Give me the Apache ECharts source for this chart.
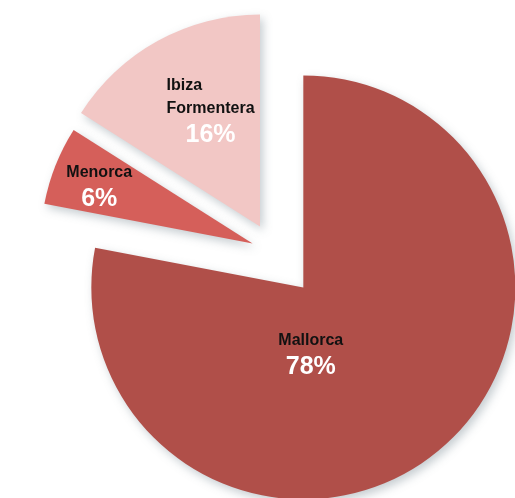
<!DOCTYPE html>
<html>
<head>
<meta charset="utf-8">
<script src="https://cdn.jsdelivr.net/npm/echarts@6/dist/echarts.min.js"></script>
<style>
  html, body { margin: 0; padding: 0; background: #fff; }
  #chart { width: 515px; height: 498px; }
</style>
</head>
<body>
<div id="chart"></div>
<script>
// data
const islands = ['Mallorca', 'Menorca', 'Ibiza Formentera']
const shares = [78, 6, 16]

// styles
const colors = ['#b04f49', '#d55f5a', '#f2c7c5']
const explode = [46, 23, 29]
const labelShift = [[-62, -16], [-52, -16], [3, -19]]
const font = "'Liberation Sans Narrow', 'Liberation Sans', Arial, sans-serif"

const chart = echarts.init(document.getElementById('chart'))

const labelText = (name, value) => {
  const lines = name.split(' ')
  const tag = lines.length > 1 ? 'nl' : 'n'
  return lines.map(l => `{${tag}|${l}}`).join('\n') + `\n{p|${value}%}`
}

// one series per slice so each can have its own explode distance
const series = islands.map((_, i) => ({
  type: 'pie',
  center: [274, 252],
  radius: [0, 212],
  startAngle: 90,
  clockwise: true,
  silent: true,
  animation: false,
  selectedMode: 'multiple',
  selectedOffset: explode[i],
  labelLayout: () => ({ dx: labelShift[i][0], dy: labelShift[i][1] }),
  data: islands.map((name, j) => {
    const show = i === j
    return {
      name: name,
      value: shares[j],
      selected: show,
      itemStyle: show ? {
        color: colors[j],
        shadowBlur: 10,
        shadowOffsetX: 3,
        shadowOffsetY: 4,
        shadowColor: 'rgba(90, 110, 120, 0.35)'
      } : { color: 'rgba(0,0,0,0)', shadowBlur: 0 },
      label: {
        show: show,
        position: 'inside',
        formatter: labelText(name, shares[j]),
        rich: {
          n: { fontFamily: font, fontWeight: 'bold', fontSize: 16, color: '#111', align: 'center', lineHeight: 24 },
          nl: { fontFamily: font, fontWeight: 'bold', fontSize: 16, color: '#111', align: 'left', lineHeight: 23 },
          p: { fontFamily: font, fontWeight: 'bold', fontSize: 25, color: '#fff', align: 'center', lineHeight: 30 }
        }
      },
      labelLine: { show: false }
    }
  })
}))

chart.setOption({
  backgroundColor: '#fff',
  series: series
})
</script>
</body>
</html>
